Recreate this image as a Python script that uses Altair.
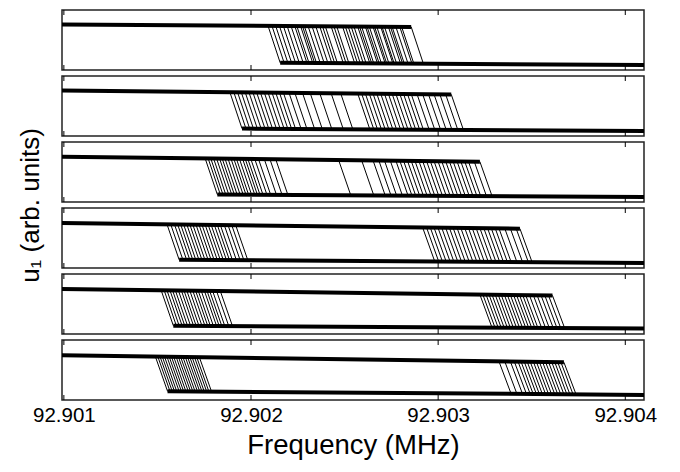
import altair as alt
import pandas as pd

# ---- data (frequency offsets in kHz above 92.901 MHz) ----
BASE_MHZ = 92.901
F_MIN, F_MAX = 92.90099, 92.90410
STEP_KHZ = 0.065           # one sweep step (width of each jump segment)
tick_values = [92.901, 92.902, 92.903, 92.904]

# branch levels (normalised u1) at left and right edges of each panel
hi_left = [0.76, 0.76, 0.755, 0.75, 0.75, 0.745]
hi_right = [0.69, 0.66, 0.64, 0.63, 0.62, 0.61]
lo_left = [0.14, 0.14, 0.14, 0.15, 0.15, 0.16]
lo_right = [0.085, 0.085, 0.085, 0.085, 0.09, 0.085]

# jump frequencies (kHz offsets) - down-sweep (left cluster) and up-sweep (right cluster)
down_p1 = [1.091, 1.112, 1.132, 1.152, 1.173, 1.193, 1.214, 1.234, 1.245, 1.265,
           1.275, 1.285, 1.305, 1.326, 1.346]
up_p1 = [1.367, 1.382, 1.397, 1.428, 1.443, 1.458, 1.489, 1.504, 1.519, 1.535,
         1.550, 1.570, 1.580, 1.591, 1.611, 1.620, 1.632, 1.652, 1.660, 1.672,
         1.693, 1.700, 1.713, 1.734, 1.745, 1.754, 1.774, 1.795, 1.805, 1.856]

down_p2 = [0.887, 0.908, 0.928, 0.948, 0.969, 0.989, 1.010, 1.030, 1.050, 1.071,
           1.091, 1.112, 1.132, 1.152, 1.173, 1.203, 1.234, 1.275, 1.316, 1.367]
up_p2 = [1.428, 1.479, 1.570, 1.591, 1.611, 1.632, 1.652, 1.672, 1.693, 1.713,
         1.734, 1.754, 1.774, 1.795, 1.815, 1.836, 1.856, 1.887, 1.917, 1.948,
         1.978, 2.009, 2.040, 2.070]

down_p3 = [0.755, 0.771, 0.785, 0.800, 0.816, 0.832, 0.846, 0.861, 0.877, 0.893,
           0.908, 0.922, 0.938, 0.955, 0.969, 0.983, 0.999, 1.020, 1.040, 1.071,
           1.101, 1.132]
up_p3 = [1.468, 1.591, 1.652, 1.683, 1.713, 1.744, 1.774, 1.795, 1.815, 1.836,
         1.856, 1.876, 1.897, 1.917, 1.938, 1.958, 1.978, 1.999, 2.019, 2.040,
         2.060, 2.080, 2.101, 2.121, 2.142, 2.162, 2.193, 2.223]

down_p4 = [0.551, 0.571, 0.591, 0.608, 0.624, 0.640, 0.657, 0.673, 0.689, 0.706,
           0.722, 0.738, 0.755, 0.771, 0.787, 0.804, 0.820, 0.836, 0.857, 0.877,
           0.897, 0.918]
up_p4 = [1.917, 1.938, 1.958, 1.978, 1.999, 2.019, 2.040, 2.060, 2.080, 2.101,
         2.121, 2.142, 2.162, 2.182, 2.203, 2.223, 2.244, 2.264, 2.284, 2.305,
         2.325, 2.356, 2.386, 2.417, 2.437]

down_p5 = [0.520, 0.536, 0.551, 0.567, 0.581, 0.596, 0.612, 0.628, 0.642, 0.657,
           0.673, 0.689, 0.704, 0.718, 0.734, 0.751, 0.765, 0.779, 0.795, 0.816,
           0.836]
up_p5 = [2.223, 2.239, 2.256, 2.272, 2.288, 2.305, 2.321, 2.337, 2.354, 2.370,
         2.386, 2.403, 2.419, 2.435, 2.452, 2.468, 2.488, 2.509, 2.529, 2.550,
         2.570, 2.590, 2.611]

down_p6 = [0.489, 0.502, 0.514, 0.526, 0.538, 0.551, 0.563, 0.575, 0.587, 0.600,
           0.612, 0.624, 0.636, 0.649, 0.661, 0.673, 0.685, 0.698, 0.710, 0.724]
up_p6 = [2.325, 2.356, 2.386, 2.407, 2.427, 2.443, 2.460, 2.476, 2.492, 2.509,
         2.525, 2.541, 2.558, 2.574, 2.590, 2.607, 2.623, 2.639, 2.656, 2.672]

downs = [down_p1, down_p2, down_p3, down_p4, down_p5, down_p6]
ups = [up_p1, up_p2, up_p3, up_p4, up_p5, up_p6]

# ---- build tables ----
W, H, GAP = 582, 60, 6
FONT = "Liberation Sans"


def level(p, f, left, right):
    t = (f - F_MIN) / (F_MAX - F_MIN)
    return left[p] + (right[p] - left[p]) * t


trace_rows, band_rows = [], []
for p in range(6):
    jumps = [BASE_MHZ + k / 1000 for k in sorted(downs[p] + ups[p])]
    step = STEP_KHZ / 1000
    for i, fj in enumerate(jumps):
        pts = [(F_MIN, level(p, F_MIN, hi_left, hi_right)),
               (fj, level(p, fj, hi_left, hi_right)),
               (fj + step, level(p, fj + step, lo_left, lo_right)),
               (F_MAX, level(p, F_MAX, lo_left, lo_right))]
        for o, (f, u) in enumerate(pts):
            trace_rows.append({"panel": p, "trace": i, "order": o, "f": f, "u": u})
    f_hi_end = max(jumps)
    f_lo_start = min(jumps) + step
    for o, f in enumerate([F_MIN, f_hi_end]):
        band_rows.append({"panel": p, "branch": "hi", "order": o, "f": f,
                          "u": level(p, f, hi_left, hi_right)})
    for o, f in enumerate([f_lo_start, F_MAX]):
        band_rows.append({"panel": p, "branch": "lo", "order": o, "f": f,
                          "u": level(p, f, lo_left, lo_right)})

traces = pd.DataFrame(trace_rows)
bands = pd.DataFrame(band_rows)
ticks = pd.DataFrame({"f": tick_values})

xscale = alt.Scale(domain=[F_MIN, F_MAX], nice=False, zero=False)
yscale = alt.Scale(domain=[0, 1], nice=False, zero=False)

panels = []
for p in range(6):
    last = p == 5
    if last:
        xaxis = alt.Axis(values=tick_values, format=".3f", title="Frequency (MHz)",
                         labelFontSize=20.5, titleFontSize=27.5, labelFont=FONT, titleFont=FONT,
                         titleFontWeight="normal", labelColor="black", titleColor="black",
                         ticks=False, domain=False, grid=False, labelFlush=False,
                         labelPadding=5, titlePadding=6)
    else:
        xaxis = None
    if p == 3:
        yaxis = alt.Axis(title="u₁ (arb. units)", titleFontSize=26, titleFont=FONT,
                         titleFontWeight="normal", titleColor="black", labels=False,
                         ticks=False, domain=False, grid=False, titleY=-GAP / 2,
                         titlePadding=19)
    else:
        yaxis = None

    tr = alt.Chart(traces[traces.panel == p]).mark_line(
        color="black", strokeWidth=1.0, clip=True
    ).encode(
        x=alt.X("f:Q", scale=xscale, axis=xaxis),
        y=alt.Y("u:Q", scale=yscale, axis=yaxis),
        detail="trace:N",
        order="order:Q",
    )
    bd = alt.Chart(bands[bands.panel == p]).mark_line(
        color="black", strokeWidth=4, clip=True
    ).encode(x="f:Q", y="u:Q", detail="branch:N", order="order:Q")
    top_ticks = alt.Chart(ticks).mark_rule(color="black", strokeWidth=1).encode(
        x="f:Q", y=alt.value(0), y2=alt.value(5))
    bot_ticks = alt.Chart(ticks).mark_rule(color="black", strokeWidth=1).encode(
        x="f:Q", y=alt.value(H - 5), y2=alt.value(H))
    panels.append(alt.layer(tr, bd, top_ticks, bot_ticks).properties(width=W, height=H))

chart = alt.vconcat(*panels, spacing=GAP, bounds="flush").properties(
    padding={"left": 8, "top": 0, "right": 5, "bottom": 2},
    background="white",
).configure_view(
    stroke="#222", strokeWidth=1.5
)

chart.save("out.html", embed_options={"renderer": "svg", "actions": False})
